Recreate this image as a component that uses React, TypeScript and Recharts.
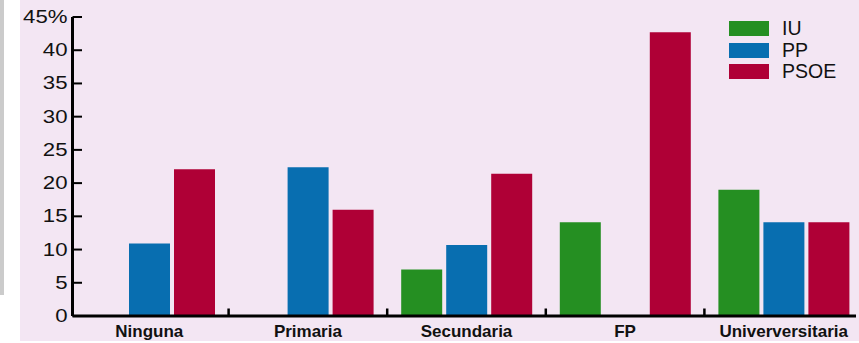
import React from 'react';
import {BarChart, Bar, XAxis, YAxis, Legend} from 'recharts';

const categories = ['Ninguna', 'Primaria', 'Secundaria', 'FP', 'Univerversitaria'];
const iu = [null, null, 7.0, 14.1, 19.0];
const pp = [10.9, 22.4, 10.7, null, 14.1];
const psoe = [22.1, 16.0, 21.4, 42.7, 14.1];
const yTicks = [0, 5, 10, 15, 20, 25, 30, 35, 40, 45];
const seriesNames = ['IU', 'PP', 'PSOE'];

const colors: {[k: string]: string} = {IU: '#258f22', PP: '#086eb0', PSOE: '#af0036'};

const data = categories.map((name, i) => ({name, IU: iu[i], PP: pp[i], PSOE: psoe[i]}));

const CHART_W = 863;
const CHART_H = 343;
const AXIS_X = 72.5;
const BAND_START = 70;
const PLOT_BOTTOM = 316;
const CAT_W = (CHART_W - BAND_START) / categories.length;
const FONT = '"Liberation Sans", Arial, sans-serif';

function YTick(props: any) {
    const {y, payload} = props;
    const label = payload.value === 45 ? '45%' : String(payload.value);
    return (
        <g>
            <line x1={AXIS_X} x2={AXIS_X + 9.5} y1={y} y2={y} stroke="#000" strokeWidth={2}/>
            <text x={0} y={0} transform={`translate(${AXIS_X - 5},${y + 6}) scale(1.2,1)`}
                  textAnchor="end" fontSize={18.5} fill="#111" fontFamily={FONT}>{label}</text>
        </g>
    );
}

function XTick(props: any) {
    const {x, payload, index} = props;
    const bx = x - CAT_W / 2;
    return (
        <g>
            {index > 0 &&
                <line x1={bx} x2={bx} y1={PLOT_BOTTOM - 1} y2={PLOT_BOTTOM - 7.5} stroke="#000" strokeWidth={2.5}/>}
            <text x={x} y={PLOT_BOTTOM + 21} textAnchor="middle" fontWeight="bold" fontSize={17}
                  fill="#111" fontFamily={FONT}>{payload.value}</text>
        </g>
    );
}

const renderLegend = () => (
    <div style={{fontFamily: FONT, fontSize: 19.5, color: '#111'}}>
        {seriesNames.map(s => (
            <div key={s} style={{display: 'flex', alignItems: 'center', height: 21.5}}>
                <span style={{display: 'inline-block', width: 40, height: 15, background: colors[s], marginRight: 13}}/>
                <span>{s}</span>
            </div>
        ))}
    </div>
);

export default function App() {
    return (
        <div style={{position: 'absolute', left: 0, top: 0, width: 859, height: 343, background: '#fff', overflow: 'hidden', fontFamily: FONT}}>
            <div style={{position: 'absolute', left: 0, top: 0, width: 4, height: 295, background: '#cbcbcb'}}/>
            <div style={{position: 'absolute', left: 20, top: 0, width: 839, height: 341, background: '#f3e6f3'}}/>
            <div style={{position: 'absolute', left: 0, top: 0, width: 856, height: 343, overflow: 'hidden'}}>
                <BarChart width={CHART_W}
                          height={CHART_H}
                          data={data}
                          barSize={41}
                          barGap={4}
                          margin={{top: 17, right: 0, bottom: 0, left: 0}}>
                    <XAxis dataKey="name" height={27} interval={0} tickLine={false} tickSize={0}
                           padding={{left: BAND_START - AXIS_X, right: 0}}
                           axisLine={{stroke: '#000', strokeWidth: 3}} tick={<XTick/>}/>
                    <YAxis width={AXIS_X} domain={[0, 45]} ticks={yTicks} interval={0} tickLine={false}
                           tickSize={0} tickMargin={0} axisLine={{stroke: '#000', strokeWidth: 3}} tick={<YTick/>}/>
                    <Legend layout="vertical" align="center" verticalAlign="middle" content={renderLegend}
                            wrapperStyle={{left: 729, top: 17.75, width: 130, height: 'auto'}}/>
                    {seriesNames.map(s => (
                        <Bar key={s} dataKey={s} fill={colors[s]} isAnimationActive={false}/>
                    ))}
                </BarChart>
            </div>
        </div>
    );
}
